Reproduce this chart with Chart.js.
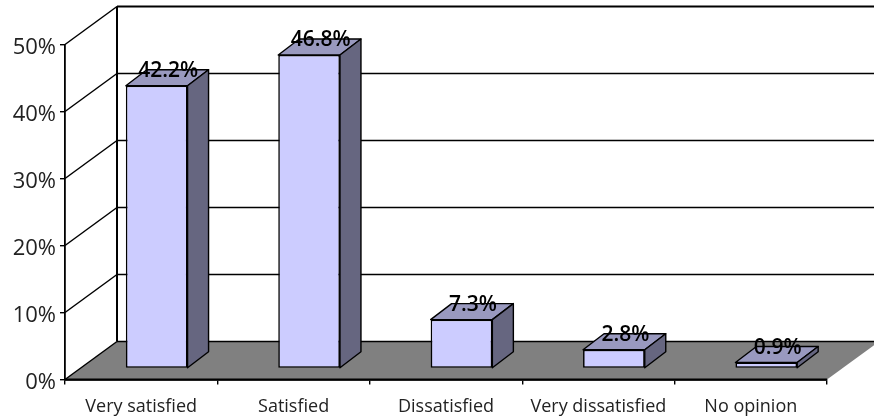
<!DOCTYPE html>
<html>
<head>
<meta charset="utf-8">
<style>html,body{margin:0;padding:0;background:#fff}canvas{display:block}</style>
<script src="https://cdn.jsdelivr.net/npm/chart.js@4"></script>
</head>
<body>
<canvas id="c" width="874" height="420"></canvas>
<script>
const categories = ['Very satisfied','Satisfied','Dissatisfied','Very dissatisfied','No opinion'];
const values = [42.2,46.8,7.3,2.8,0.9];
const axisMax = 50;
const axisStep = 10;

const font = '"Open Sans"';
const ink = '#000';
const D = {wx:52, wy:38, bx:21, by:16};   // depth of the room and of a bar
const shift = {x:(D.wx-D.bx)/2, y:(D.wy-D.by)/2};

function poly(ctx, pts, fill, stroke, w){
  ctx.beginPath();
  pts.forEach((p,i)=> i?ctx.lineTo(p[0],p[1]):ctx.moveTo(p[0],p[1]));
  ctx.closePath();
  if(fill){ctx.fillStyle=fill;ctx.fill();}
  if(stroke){ctx.strokeStyle=stroke;ctx.lineWidth=w;ctx.lineJoin='round';ctx.stroke();}
}
function seg(ctx,x1,y1,x2,y2,w){
  ctx.beginPath();ctx.moveTo(x1,y1);ctx.lineTo(x2,y2);ctx.lineWidth=w;ctx.strokeStyle=ink;ctx.stroke();
}

const room = {
  id:'room',
  beforeDatasetsDraw(chart){
    const {ctx,scales:{x,y},chartArea:a}=chart;
    const W=chart.width;
    const b=y.getPixelForValue(0);
    ctx.save();
    for(let v=axisStep;v<=axisMax;v+=axisStep){
      const p=y.getPixelForValue(v);
      seg(ctx,a.left,p,a.left+D.wx,p-D.wy,1.5);
      seg(ctx,a.left+D.wx,p-D.wy,W,p-D.wy,v===axisMax?2:1.4);
    }
    seg(ctx,a.left+D.wx,y.getPixelForValue(axisMax)-D.wy,a.left+D.wx,b-D.wy,2);
    poly(ctx,[[a.left,b],[a.left+D.wx,b-D.wy],[a.right+D.wx,b-D.wy],[a.right,b]],'#808080');
    seg(ctx,a.left+D.wx,b-D.wy,W,b-D.wy,1.6);
    seg(ctx,a.left,b,a.left+D.wx,b-D.wy,1.5);
    seg(ctx,a.left,b,a.right,b,1.8);
    chart.getDatasetMeta(0).data.forEach(el=>{
      const l=el.x-el.width/2+shift.x, r=el.x+el.width/2+shift.x;
      const t=el.y-shift.y, f=el.base-shift.y;
      poly(ctx,[[l,t],[l+D.bx,t-D.by],[r+D.bx,t-D.by],[r,t]],'#9999BF',ink,1.4);
      poly(ctx,[[r,t],[r+D.bx,t-D.by],[r+D.bx,f-D.by],[r,f]],'#666680',ink,1.4);
    });
    ctx.restore();
  },
  beforeDatasetDraw(chart){chart.ctx.save();chart.ctx.translate(shift.x,-shift.y);},
  afterDatasetDraw(chart){chart.ctx.restore();},
  afterDatasetsDraw(chart){
    const ctx=chart.ctx;
    ctx.save();
    ctx.font='600 21px '+font;
    ctx.fillStyle='#000';
    ctx.textAlign='center';ctx.textBaseline='middle';
    chart.getDatasetMeta(0).data.forEach((el,i)=>{
      ctx.fillText(values[i].toFixed(1)+'%',el.x+shift.x+D.bx/2+1,el.y-shift.y-D.by+1.5);
    });
    ctx.restore();
  }
};

new Chart(document.getElementById('c'),{
  type:'bar',
  data:{labels:categories,datasets:[{
    data:values,
    backgroundColor:'#CCCCFF',
    borderColor:ink,
    borderWidth:1.6,
    borderSkipped:false,
    categoryPercentage:1,
    barPercentage:0.405,
    clip:false
  }]},
  plugins:[room],
  options:{
    responsive:false,
    animation:false,
    devicePixelRatio:1,
    layout:{padding:{top:44.5,right:47,left:0,bottom:0}},
    plugins:{legend:{display:false},title:{display:false},tooltip:{enabled:false}},
    scales:{
      x:{
        afterFit(s){s.height=40.5;},
        grid:{display:true,offset:true,drawOnChartArea:false,drawTicks:true,tickLength:5,color:ink,lineWidth:1.4},
        border:{display:true,color:ink,width:1.8},
        ticks:{color:'#222',font:{family:font,size:18},padding:12,maxRotation:0,minRotation:0,autoSkip:false}
      },
      y:{
        min:0,max:axisMax,
        afterFit(s){s.width=65;},
        grid:{display:true,drawOnChartArea:false,drawTicks:true,tickLength:5,color:ink,lineWidth:1.4},
        border:{display:true,color:ink,width:1.8},
        ticks:{stepSize:axisStep,color:'#222',font:{family:font,size:22},padding:4,labelOffset:3,callback:v=>v+'%'}
      }
    }
  }
});
</script>
</body>
</html>
